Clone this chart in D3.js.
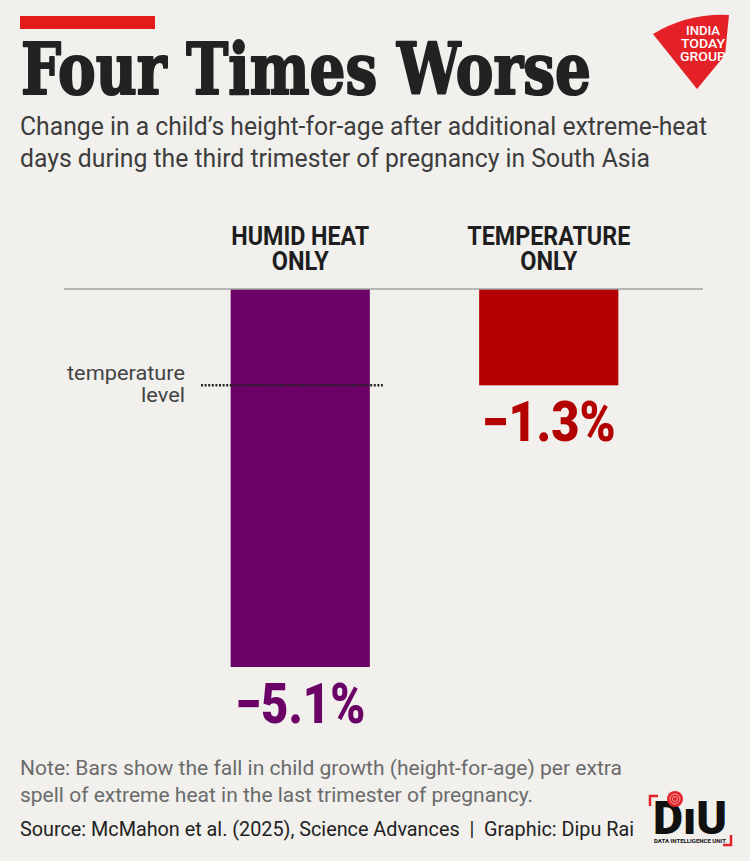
<!DOCTYPE html>
<html>
<head>
<meta charset="utf-8">
<script src="https://cdn.jsdelivr.net/npm/d3@7"></script>
<style>
  html, body { margin: 0; padding: 0; background: #f1f0ed; }
  svg { display: block; }
</style>
</head>
<body>
<svg></svg>
<script>
const width = 750;
const height = 861;

// data
const categories = ["HUMID HEAT ONLY", "TEMPERATURE ONLY"];
const headLines = [["HUMID HEAT", "ONLY"], ["TEMPERATURE", "ONLY"]];
const values = [-5.1, -1.3];
const valueLabels = ["\u22125.1%", "\u22121.3%"];
const barColors = ["#6b0066", "#b30000"];
const referenceValue = -1.3; // "temperature level"

const subtitleLines = [
    "Change in a child\u2019s height-for-age after additional extreme-heat",
    "days during the third trimester of pregnancy in South Asia"
];
const noteLines = [
    "Note: Bars show the fall in child growth (height-for-age) per extra",
    "spell of extreme heat in the last trimester of pregnancy."
];
const sourceLine = "Source: McMahon et al. (2025), Science Advances  |  Graphic: Dipu Rai";

const svg = d3.select("svg")
    .attr("width", width)
    .attr("height", height)
    .attr("viewBox", `0 0 ${width} ${height}`);

svg.append("rect")
    .attr("width", width)
    .attr("height", height)
    .attr("fill", "#f1f0ed");

// squeeze a text to a given width (no condensed fonts available)
function fit(sel, w) {
    sel.attr("textLength", w).attr("lengthAdjust", "spacingAndGlyphs");
    return sel;
}

// header
svg.append("rect")
    .attr("x", 20).attr("y", 16)
    .attr("width", 135).attr("height", 13)
    .attr("fill", "#e31b1b");

svg.append("text")
    .attr("x", 21).attr("y", 94)
    .style("font-family", "'DejaVu Serif', serif")
    .style("font-weight", "bold")
    .style("font-size", "71px")
    .style("fill", "#222")
    .style("stroke", "#222")
    .style("stroke-width", 2.2)
    .style("stroke-linejoin", "round")
    .text("Four Times Worse")
    .call(fit, 570);

const subW = [687, 630];
svg.selectAll(".subtitle")
    .data(subtitleLines)
    .enter()
    .append("text")
    .attr("class", "subtitle")
    .attr("x", 20)
    .attr("y", (d, i) => 135 + i * 32)
    .style("font-family", "Roboto, sans-serif")
    .style("font-size", "25px")
    .style("fill", "#3d3d3d")
    .text(d => d)
    .each(function(d, i) { d3.select(this).call(fit, subW[i]); });

// India Today Group badge
const badge = svg.append("g");
badge.append("path")
    .attr("d", "M653,34 Q688,13 729,15 L725,55 L697,89 Z")
    .attr("fill", "#e42127");
[["INDIA", 35, 34], ["TODAY", 48, 44], ["GROUP", 61, 46]].forEach(([t, y, w]) => {
    badge.append("text")
        .attr("x", 703).attr("y", y)
        .attr("text-anchor", "middle")
        .style("font-family", "Roboto, sans-serif")
        .style("font-weight", "500")
        .style("font-size", "13.5px")
        .style("fill", "#fff")
        .text(t)
        .call(fit, w);
});

// scales
const x = d3.scaleBand()
    .domain(categories)
    .range([176, 673])
    .paddingInner(0.44)
    .paddingOuter(0.22);

const y = d3.scaleLinear()
    .domain([0, -5.1])
    .range([289, 667]);

// column heads
const headW = [[138, 57], [163, 57]];
categories.forEach((c, i) => {
    headLines[i].forEach((line, j) => {
        svg.append("text")
            .attr("x", x(c) + x.bandwidth() / 2)
            .attr("y", 245 + j * 25)
            .attr("text-anchor", "middle")
            .style("font-family", "Roboto, sans-serif")
            .style("font-weight", "bold")
            .style("font-size", "25px")
            .style("fill", "#1e1e1e")
            .text(line)
            .call(fit, headW[i][j]);
    });
});

// bars
svg.selectAll(".bar")
    .data(categories)
    .enter()
    .append("rect")
    .attr("class", "bar")
    .attr("x", d => x(d))
    .attr("y", y(0))
    .attr("width", x.bandwidth())
    .attr("height", (d, i) => y(values[i]) - y(0))
    .attr("fill", (d, i) => barColors[i]);

// zero line
svg.append("line")
    .attr("x1", 64).attr("x2", 703)
    .attr("y1", y(0)).attr("y2", y(0))
    .attr("stroke", "#a3a3a3")
    .attr("stroke-width", 1.5);

// temperature level marker
svg.append("line")
    .attr("x1", 201)
    .attr("x2", x(categories[0]) + x.bandwidth() + 13)
    .attr("y1", y(referenceValue))
    .attr("y2", y(referenceValue))
    .attr("stroke", "#222")
    .attr("stroke-width", 2.5)
    .attr("stroke-dasharray", "2,1.6");

["temperature", "level"].forEach((t, i) => {
    svg.append("text")
        .attr("x", 185)
        .attr("y", 380 + i * 22)
        .attr("text-anchor", "end")
        .style("font-family", "Roboto, sans-serif")
        .style("font-size", "21px")
        .style("fill", "#444")
        .text(t)
        .call(fit, i === 0 ? 118 : 44);
});

// value labels
const labelW = [130, 134];
svg.selectAll(".value")
    .data(categories)
    .enter()
    .append("text")
    .attr("class", "value")
    .attr("x", d => x(d) + x.bandwidth() / 2)
    .attr("y", (d, i) => y(values[i]) + 56)
    .attr("text-anchor", "middle")
    .style("font-family", "Roboto, sans-serif")
    .style("font-weight", "900")
    .style("font-size", "56px")
    .style("fill", (d, i) => barColors[i])
    .text((d, i) => valueLabels[i])
    .each(function(d, i) { d3.select(this).call(fit, labelW[i]); });

// footer
const noteW = [602, 513];
svg.selectAll(".note")
    .data(noteLines)
    .enter()
    .append("text")
    .attr("class", "note")
    .attr("x", 20)
    .attr("y", (d, i) => 775 + i * 27)
    .style("font-family", "Roboto, sans-serif")
    .style("font-size", "21px")
    .style("fill", "#6b6b6b")
    .text(d => d)
    .each(function(d, i) { d3.select(this).call(fit, noteW[i]); });

svg.append("text")
    .attr("x", 20)
    .attr("y", 836)
    .style("font-family", "Roboto, sans-serif")
    .style("font-size", "20px")
    .style("fill", "#222")
    .style("white-space", "pre")
    .attr("xml:space", "preserve")
    .text(sourceLine)
    .call(fit, 614);

// DIU logo
const diu = svg.append("g");
diu.append("text")
    .attr("x", 690).attr("y", 834)
    .attr("text-anchor", "middle")
    .style("font-family", "Roboto, sans-serif")
    .style("font-weight", "900")
    .style("font-size", "46px")
    .style("fill", "#111")
    .text("D\u0131U")
    .call(fit, 74);
diu.append("circle")
    .attr("cx", 675).attr("cy", 799).attr("r", 8)
    .attr("fill", "#e3242b");
[2.5, 5].forEach(r => {
    diu.append("circle")
        .attr("cx", 675).attr("cy", 799).attr("r", r)
        .attr("fill", "none")
        .attr("stroke", "#f7b9bb")
        .attr("stroke-width", 0.8);
});
diu.append("text")
    .attr("x", 690).attr("y", 842.5)
    .attr("text-anchor", "middle")
    .style("font-family", "Roboto, sans-serif")
    .style("font-weight", "bold")
    .style("font-size", "5.5px")
    .style("fill", "#111")
    .text("DATA INTELLIGENCE UNIT")
    .call(fit, 72);
diu.append("path")
    .attr("d", "M658,796 L650,796 L650,806")
    .attr("fill", "none").attr("stroke", "#e3242b").attr("stroke-width", 2.5);
diu.append("path")
    .attr("d", "M731,835 L731,845 L723,845")
    .attr("fill", "none").attr("stroke", "#e3242b").attr("stroke-width", 2.5);
</script>
</body>
</html>
